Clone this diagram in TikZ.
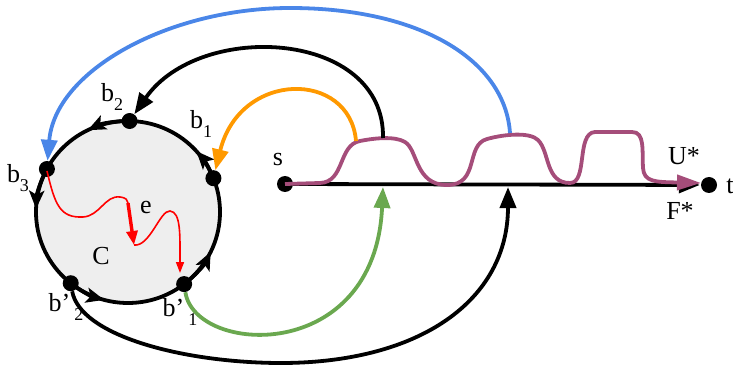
\documentclass[tikz,border=0pt]{standalone}
\usepackage{fontspec}
\setmainfont{Liberation Serif}
\usetikzlibrary{arrows.meta}
\definecolor{cfill}{RGB}{238,238,238}
\definecolor{cpurple}{RGB}{165,77,122}
\definecolor{corange}{RGB}{255,153,0}
\definecolor{cblue}{RGB}{74,134,232}
\definecolor{cgreen}{RGB}{106,168,79}
\newcommand{\sbx}[1]{\raisebox{-9pt}{\fontsize{18}{18}\selectfont #1}}
\begin{document}
\begin{tikzpicture}[x=1pt,y=-1pt,
  dot/.style={circle,fill=black,inner sep=0pt,minimum size=16pt},
  conn/.style={line width=3.8pt},
  bigtip/.style={-{Triangle[length=21pt,width=16pt]}},
  ctip/.style={-{Stealth[length=18pt,width=15pt,inset=4pt]}},
  lab/.style={font=\fontsize{26}{28}\selectfont, inner sep=0pt},
  redthin/.style={red,line width=1.6pt},
]
\useasboundingbox (0,0) rectangle (733,366);
\coordinate (c) at (128,212);
\draw[line width=3.8pt, fill=cfill] (c) ellipse [x radius=92, y radius=91];
% arrowheads on circle
\foreach \a/\b in {-89/-116,-152/-178,-231.5/-255,-307.6/-334,-21.8/-42}{
  \draw[conn,ctip] (c) ++(\a:92 and 91) arc[start angle=\a, end angle=\b, x radius=92, y radius=91];
}
% nodes
\path (c) ++(-89:92 and 91) node[dot] (b2) {};
\path (c) ++(-151.8:92 and 91) node[dot] (b3) {};
\path (c) ++(-231.5:92 and 91) node[dot] (bp2) {};
\path (c) ++(-307.6:92 and 91) node[dot] (bp1) {};
\path (c) ++(-21.8:92 and 91) node[dot] (b1) {};
\node[dot] (s) at (285,184) {};
\node[dot] (t) at (709,185) {};
% main line
\draw[conn,bigtip,shorten >=1pt] (s) -- (t);
% purple U*
\coordinate (pu) at (701,183);
\draw[cpurple,line width=3.8pt,-{Triangle[length=24pt,width=15pt]}]
  (s.center) -- (320,183) .. controls (345,182) and (338,145) .. (360,141)
  .. controls (375,138) and (395,136) .. (405,142)
  .. controls (418,150) and (415,185) .. (447,185)
  .. controls (480,185) and (465,145) .. (487,139)
  .. controls (505,134) and (530,132) .. (538,140)
  .. controls (550,152) and (545,183) .. (570,183)
  .. controls (588,183) and (576,133) .. (595,132) -- (632,132)
  .. controls (645,132) and (642,150) .. (643,168)
  .. controls (644,182) and (655,182) .. (pu);
% coloured and black connectors
\coordinate (o1) at (356,141);
\coordinate (k1) at (383,138);
\coordinate (u2) at (510,133);
\coordinate (g) at (383,187);
\coordinate (k2) at (508,187);
\draw[corange,conn,bigtip] (o1) .. controls (350,70) and (240,70) .. (b1);
\draw[conn,bigtip] (k1) .. controls (385,30) and (200,20) .. (b2);
\draw[cblue,conn,bigtip] (u2) .. controls (505,60) and (420,8) .. (290,8)
  .. controls (170,8) and (55,70) .. (b3);
\draw[cgreen,conn,bigtip] (bp1) .. controls (195,355) and (375,365) .. (g);
\draw[conn,bigtip] (bp2) .. controls (80,335) and (180,362) .. (277,363)
  .. controls (420,364) and (508,300) .. (k2);
% red path
\coordinate (r0) at (47,171);
\coordinate (e1) at (128,203);
\coordinate (e2) at (134,245);
\coordinate (r2) at (180,273);
\draw[redthin] (r0) .. controls (55,205) and (60,218) .. (83,217)
  .. controls (100,216) and (105,195) .. (120,197)
  .. controls (127,198) and (127,200) .. (e1);
\draw[red,line width=3.4pt,-{Triangle[length=14pt,width=11pt]}] (e1) -- (e2);
\draw[redthin,-{Triangle[length=11pt,width=8pt]}] (e2) .. controls (150,247) and (160,210) .. (170,211)
  .. controls (181,212) and (180,235) .. (r2);
% labels
\node[lab] (lb2) at (112,97) {b\sbx{2}};
\node[lab] (lb1) at (201,124) {b\sbx{1}};
\node[lab] (lb3) at (18,178) {b\sbx{3}};
\node[lab] (lbp2) at (66,307) {b’\,\sbx{2}};
\node[lab] (lbp1) at (180,312) {b’\,\sbx{1}};
\node[lab] (ls) at (278,160) {s};
\node[lab] (lt) at (730,186) {t};
\node[lab] (lu) at (684,156) {U*};
\node[lab] (lf) at (680,211) {F*};
\node[lab] (le) at (146,208) {e};
\node[lab] (lc) at (101,256) {C};
\end{tikzpicture}
\end{document}
